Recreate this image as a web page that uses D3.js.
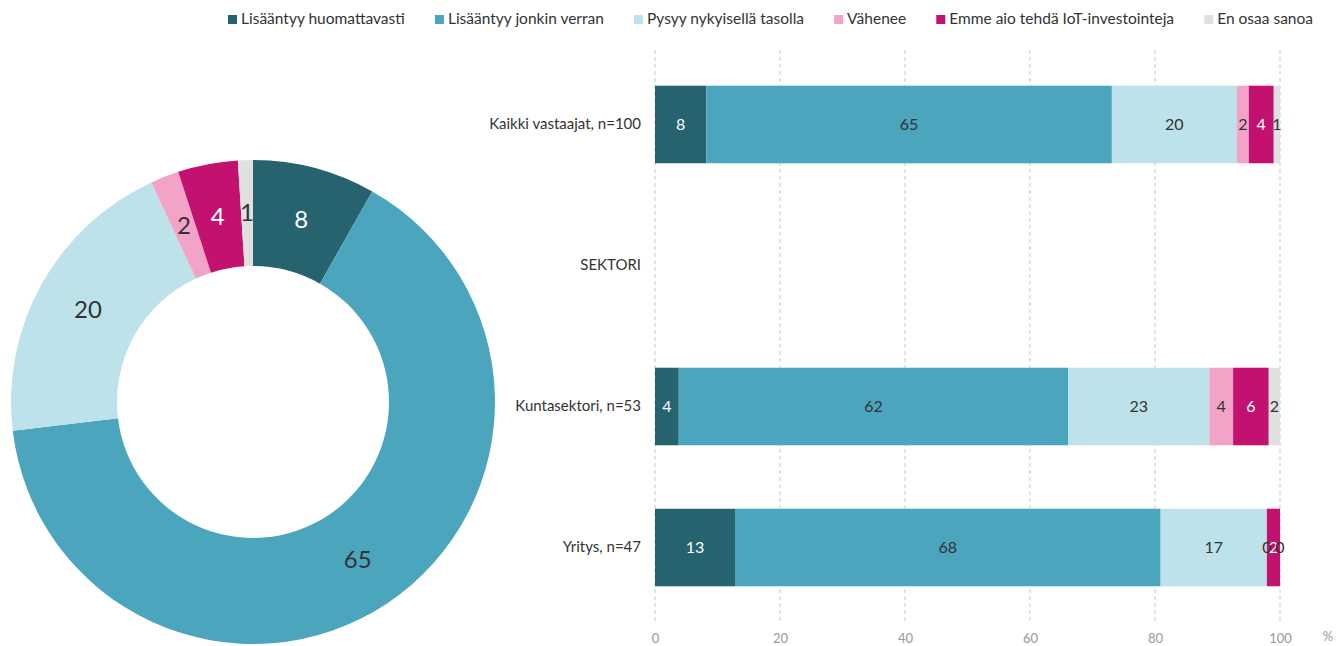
<!DOCTYPE html>
<meta charset="utf-8">
<style>
  body { margin: 0; background: #fff; }
  text { font-family: Lato, "Open Sans", sans-serif; }
</style>
<svg width="1336" height="646"></svg>
<script src="https://d3js.org/d3.v7.min.js"></script>
<script>

var series = ["Lisääntyy huomattavasti", "Lisääntyy jonkin verran", "Pysyy nykyisellä tasolla",
              "Vähenee", "Emme aio tehdä IoT-investointeja", "En osaa sanoa"];
var colors = ["#27626f", "#4ba6bd", "#bde2ea", "#f3a3c8", "#c2116e", "#e0e0e0"];
var labelColors = ["#fff", "#333", "#333", "#333", "#fff", "#333"];

var categories = ["Kaikki vastaajat, n=100", "SEKTORI", "Kuntasektori, n=53", "Yritys, n=47"];
var kaikki = [8.2, 64.9, 20.0, 1.9, 4.0, 1.0];
var kunta  = [3.8, 62.3, 22.6, 3.8, 5.7, 1.8];
var yritys = [12.8, 68.1, 17.0, 0, 2.1, 0];
var rows = [kaikki, null, kunta, yritys];
var xTicks = [0, 20, 40, 60, 80, 100];

var svg = d3.select("svg");

// legend, spread between x=228 and x=1313
var legendLeft = 228, legendRight = 1313;
var items = series.map(function(s, i) {
  var item = svg.append("g");
  item.append("rect").attr("x", 0).attr("y", 15).attr("width", 9).attr("height", 9).attr("fill", colors[i]);
  var t = item.append("text").attr("x", 13).attr("y", 24).attr("font-size", 15.5).attr("fill", "#333").text(s);
  return { g: item, w: 13 + t.node().getComputedTextLength() };
});
var totalW = d3.sum(items, function(d) { return d.w; });
var gap = (legendRight - legendLeft - totalW) / (items.length - 1);
var lx = legendLeft;
items.forEach(function(d) {
  d.g.attr("transform", "translate(" + lx + ",0)");
  lx += d.w + gap;
});

// donut
var pie = d3.pie().sort(null).value(function(d) { return d; });
var arc = d3.arc().innerRadius(136).outerRadius(242);
var labelArc = d3.arc().innerRadius(189).outerRadius(189);
var donut = svg.append("g").attr("transform", "translate(253,402)");
var arcs = pie(kaikki);
donut.selectAll("path").data(arcs).enter().append("path")
  .attr("d", arc)
  .attr("fill", function(d, i) { return colors[i]; });
donut.selectAll("text").data(arcs).enter().append("text")
  .attr("transform", function(d) { return "translate(" + labelArc.centroid(d) + ")"; })
  .attr("text-anchor", "middle").attr("dy", "0.35em")
  .attr("font-size", 24)
  .attr("fill", function(d, i) { return labelColors[i]; })
  .text(function(d) { return Math.round(d.data); });

// bars
var x = d3.scaleLinear().domain([0, 100]).range([655, 1280]);
var y = d3.scaleBand().domain(categories).range([54, 618]).paddingInner(0.45).paddingOuter(0.225);

var grid = svg.append("g");
grid.selectAll("line").data(xTicks).enter().append("line")
  .attr("x1", x).attr("x2", x).attr("y1", 50).attr("y2", 622)
  .attr("stroke", "#c8c8c8").attr("stroke-dasharray", "4,3");

var xAxis = svg.append("g").attr("transform", "translate(0,608)")
  .call(d3.axisBottom(x).tickValues(xTicks).tickSize(0).tickPadding(26));
xAxis.select(".domain").remove();
xAxis.selectAll("text").attr("font-size", 13).attr("fill", "#999").style("font-family", "Lato, sans-serif");
svg.append("text").attr("x", 1328).attr("y", 641).attr("text-anchor", "middle")
  .attr("font-size", 13).attr("fill", "#999").text("%");

var yAxis = svg.append("g").attr("transform", "translate(645,0)")
  .call(d3.axisLeft(y).tickSize(0).tickPadding(4));
yAxis.select(".domain").remove();
yAxis.selectAll("text").attr("font-size", 15).attr("fill", "#333").style("font-family", "Lato, sans-serif");

rows.forEach(function(vals, r) {
  if (!vals) return;
  var cat = categories[r];
  var stacked = [], acc = 0;
  vals.forEach(function(v, i) { stacked.push({ i: i, v: v, x0: acc, x1: acc + v }); acc += v; });
  var g = svg.append("g");
  g.selectAll("rect").data(stacked).enter().append("rect")
    .attr("x", function(d) { return x(d.x0); })
    .attr("width", function(d) { return x(d.x1) - x(d.x0); })
    .attr("y", y(cat)).attr("height", y.bandwidth())
    .attr("fill", function(d) { return colors[d.i]; });
  g.selectAll("text").data(stacked).enter().append("text")
    .attr("x", function(d) { return (x(d.x0) + x(d.x1)) / 2; })
    .attr("y", y(cat) + y.bandwidth() / 2).attr("dy", "0.35em")
    .attr("text-anchor", "middle").attr("font-size", 16)
    .attr("fill", function(d) { return labelColors[d.i]; })
    .text(function(d) { return Math.round(d.v); });
});

</script>
